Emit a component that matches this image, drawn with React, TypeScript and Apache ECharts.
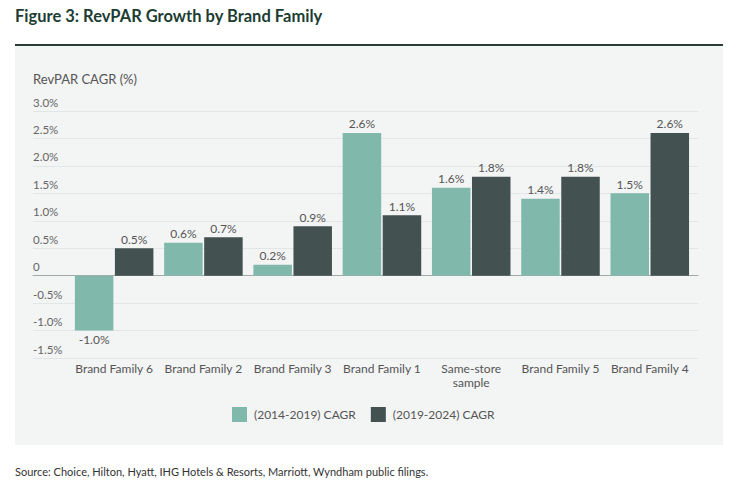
import React, { useEffect, useRef } from "react";
import * as echarts from "echarts";

const categories = [
  "Brand Family 6",
  "Brand Family 2",
  "Brand Family 3",
  "Brand Family 1",
  "Same-store\nsample",
  "Brand Family 5",
  "Brand Family 4",
];
const series2014 = [-1.0, 0.6, 0.2, 2.6, 1.6, 1.4, 1.5];
const series2019 = [0.5, 0.7, 0.9, 1.1, 1.8, 1.8, 2.6];
const seriesNames = ["(2014-2019) CAGR", "(2019-2024) CAGR"];
const yMin = -1.5;
const yMax = 3.0;
const yInterval = 0.5;

const FONT = "Lato";
const TEAL = "#80b9ab";
const DARK = "#435151";

export default function App() {
  const ref = useRef<HTMLDivElement>(null);
  useEffect(() => {
    document.body.style.margin = "0";
    const chart = echarts.init(ref.current!, undefined, { renderer: "svg" });
    const mkData = (arr: number[]) =>
      arr.map((v) => ({
        value: v,
        label: { position: v < 0 ? "bottom" : "top" },
      }));
    const labelStyle = {
      show: true,
      distance: 3,
      fontFamily: FONT,
      fontSize: 12,
      color: "#555",
      formatter: (p: any) => p.value.toFixed(1) + "%",
    };
    chart.setOption({
      animation: false,
      textStyle: { fontFamily: FONT },
      graphic: [
        {
          type: "rect",
          shape: { x: 15, y: 45, width: 708, height: 400 },
          style: { fill: "#f3f4f4" },
          z: -10,
        },
        {
          type: "line",
          shape: { x1: 15, y1: 45, x2: 723, y2: 45 },
          style: { stroke: "#2b3b38", lineWidth: 2 },
        },
      ],
      title: [
        {
          text: "Figure 3: RevPAR Growth by Brand Family",
          left: 15,
          top: 7,
          padding: 0,
          textStyle: {
            fontFamily: FONT,
            fontSize: 16.5,
            fontWeight: "bold",
            color: "#1d3d33",
          },
        },
        {
          text: "RevPAR CAGR (%)",
          left: 33,
          top: 72,
          padding: 0,
          textStyle: {
            fontFamily: FONT,
            fontSize: 13,
            fontWeight: "normal",
            color: "#555",
          },
        },
        {
          text: "Source: Choice, Hilton, Hyatt, IHG Hotels & Resorts, Marriott, Wyndham public filings.",
          left: 15,
          top: 465.5,
          padding: 0,
          textStyle: {
            fontFamily: FONT,
            fontSize: 11,
            fontWeight: "normal",
            color: "#333",
          },
        },
      ],
      legend: {
        data: seriesNames,
        left: 232,
        top: 407,
        icon: "rect",
        itemWidth: 15,
        itemHeight: 15,
        itemGap: 15,
        padding: 0,
        textStyle: {
          fontFamily: FONT,
          fontSize: 12,
          color: "#555",
          padding: [0, 0, 0, 2],
        },
      },
      grid: [
        { left: 33, right: 39, top: 111, bottom: 129 },
        { left: 69.5, right: 42.6, top: 111, bottom: 129 },
      ],
      xAxis: [
        {
          type: "value",
          gridIndex: 0,
          min: 0,
          max: 1,
          axisLabel: { show: false },
          axisTick: { show: false },
          splitLine: { show: false },
          axisLine: { show: true, onZero: true, lineStyle: { color: "#a3abaa", width: 1 } },
        },
        {
          type: "category",
          gridIndex: 1,
          data: categories,
          axisLine: { show: false, onZero: false },
          axisTick: { show: false },
          axisLabel: {
            margin: 3,
            fontFamily: FONT,
            fontSize: 12,
            color: "#555",
            lineHeight: 14,
            interval: 0,
          },
        },
      ],
      yAxis: [
        {
          type: "value",
          gridIndex: 0,
          min: yMin,
          max: yMax,
          interval: yInterval,
          axisLine: { show: false },
          axisTick: { show: false },
          splitLine: { lineStyle: { color: "#e3e6e6", width: 1 } },
          axisLabel: {
            inside: true,
            margin: 0,
            align: "left",
            verticalAlign: "bottom",
            padding: [0, 0, 3, 0],
            fontFamily: FONT,
            fontSize: 11.5,
            color: "#666",
            formatter: (v: number) => (v === 0 ? "0" : v.toFixed(1) + "%"),
          },
        },
        {
          type: "value",
          gridIndex: 1,
          min: yMin,
          max: yMax,
          interval: yInterval,
          show: false,
        },
      ],
      series: [
        {
          name: seriesNames[0],
          type: "bar",
          xAxisIndex: 1,
          yAxisIndex: 1,
          data: mkData(series2014),
          barWidth: 38.5,
          barGap: "4%",
          itemStyle: { color: TEAL },
          label: labelStyle,
        },
        {
          name: seriesNames[1],
          type: "bar",
          xAxisIndex: 1,
          yAxisIndex: 1,
          data: mkData(series2019),
          barWidth: 38.5,
          barGap: "4%",
          itemStyle: { color: DARK },
          label: labelStyle,
        },
      ],
    });
    return () => chart.dispose();
  }, []);
  return <div ref={ref} style={{ width: 737, height: 487 }} />;
}
